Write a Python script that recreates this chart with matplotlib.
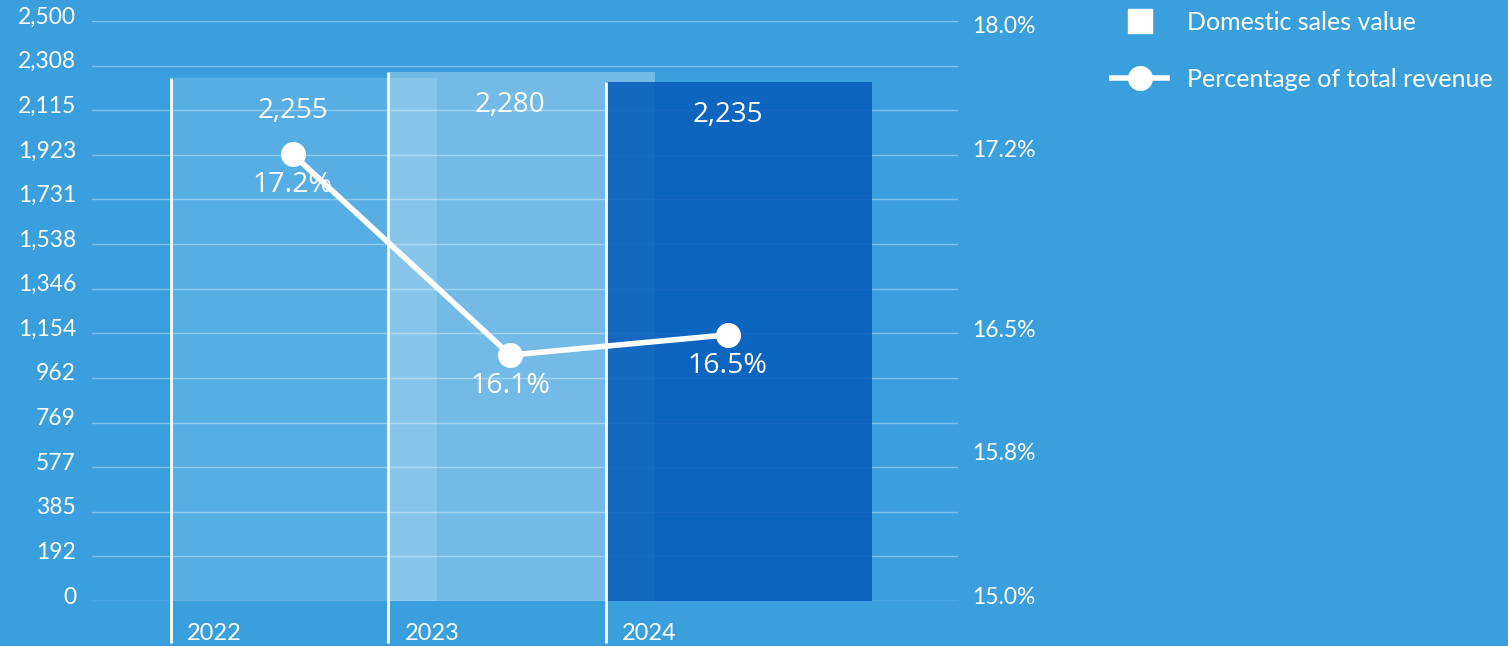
import numpy as np
import matplotlib
matplotlib.use('Agg')
import matplotlib.pyplot as plt
from matplotlib.lines import Line2D
from matplotlib.colors import to_rgba
from matplotlib.ticker import FuncFormatter
from matplotlib.transforms import ScaledTranslation

# Domestic sales (bars, left axis) and share of total revenue (line, right axis)
years = ['2022', '2023', '2024']
sales = [2255, 2280, 2235]
pct = [17.2, 16.1, 16.5]
pct_ticks = [18.0, 17.2, 16.5, 15.8, 15.0]

bg = '#3AA0DD'
bar_colors = [to_rgba('white', 0.15), to_rgba('white', 0.29), to_rgba('#065CBB', 0.87)]

# the percentage axis is not evenly spaced -> piecewise linear scale
scale_vals = [15.0, 15.8, 16.1, 16.5, 17.2, 18.0, 18.06]
scale_pos = [0.0, 0.247, 0.424, 0.459, 0.77, 0.983, 1.0]

def fwd(v):
    return np.interp(v, scale_vals, scale_pos)

def inv(p):
    return np.interp(p, scale_pos, scale_vals)

tick_font = {'family': 'Lato', 'weight': 'normal'}
label_font = {'family': 'Open Sans'}

fig = plt.figure(figsize=(15.08, 6.46), dpi=100, facecolor=bg)
ax = fig.add_axes([92 / 1508, 45 / 646, 866 / 1508, 580 / 646])
ax.set_facecolor(bg)

# tick labels sit a little above their gridlines
lift = ScaledTranslation(0, 6 / 100, fig.dpi_scale_trans)

x = np.arange(len(years))
line_x = x + 0.56

ax.bar(x, sales, width=1.223, align='edge', color=bar_colors, zorder=2)
ax.vlines(x, -180, sales, colors='white', lw=2, clip_on=False, zorder=3)

ax.set_xlim(-0.363, 3.618)
ax.set_ylim(0, 2500)
ax.set_yticks(np.linspace(0, 2500, 14))
ax.yaxis.set_major_formatter(FuncFormatter(lambda v, _: f'{v:,.0f}'))
ax.set_xticks([])
ax.grid(axis='y', color='white', alpha=0.35, lw=1)
ax.set_axisbelow(True)
ax.tick_params(axis='y', length=0, pad=11.5, labelsize=16.5, labelcolor='white')
for lbl in ax.get_yticklabels():
    lbl.set_fontfamily(tick_font['family'])
    lbl.set_fontweight(tick_font['weight'])
    lbl.set_transform(lbl.get_transform() + lift)
for s in ax.spines.values():
    s.set_visible(False)

for i, yr in enumerate(years):
    ax.annotate(yr, xy=(x[i], 0), xytext=(16, -33), textcoords='offset pixels',
                ha='left', va='center', color='white', fontsize=17,
                annotation_clip=False, **tick_font)
    ax.annotate(f'{sales[i]:,}', xy=(line_x[i], sales[i]), xytext=(0, -33),
                textcoords='offset pixels', ha='center', va='center',
                color='white', fontsize=20, zorder=6, **label_font)

ax2 = ax.twinx()
ax2.set_yscale('function', functions=(fwd, inv))
ax2.set_ylim(15.0, 18.06)
ax2.set_yticks(pct_ticks)
ax2.set_yticklabels([f'{v:.1f}%' for v in pct_ticks], **tick_font)
ax2.tick_params(axis='y', length=0, pad=10, labelsize=16.5, labelcolor='white')
for lbl in ax2.get_yticklabels():
    lbl.set_transform(lbl.get_transform() + lift)
for s in ax2.spines.values():
    s.set_visible(False)

ax2.plot(line_x, pct, color='white', lw=4, marker='o', ms=17, zorder=5)
for i, p in enumerate(pct):
    ax2.annotate(f'{p:.1f}%', xy=(line_x[i], p), xytext=(0, -31),
                 textcoords='offset pixels', ha='center', va='center',
                 color='white', fontsize=20.5, **label_font)

handles = [
    Line2D([], [], marker='s', ls='none', color='white', ms=17),
    Line2D([], [], color='white', lw=4, marker='o', ms=17),
]
fig.legend(handles, ['Domestic sales value', 'Percentage of total revenue'],
           loc='upper left', bbox_to_anchor=(1112 / 1508, 1 - 11 / 646),
           frameon=False, labelcolor='white', handlelength=2.2,
           handletextpad=0.8, labelspacing=1.35, borderpad=0, borderaxespad=0,
           prop={'family': 'Lato', 'weight': 'normal', 'size': 18})

fig.savefig('out.png', dpi=100, facecolor=bg)
